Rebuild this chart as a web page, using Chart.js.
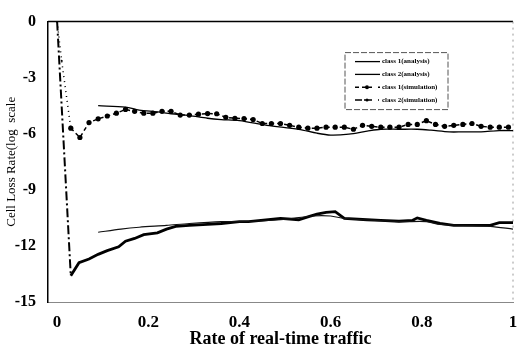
<!DOCTYPE html>
<html>
<head>
<meta charset="utf-8">
<script src="https://cdn.jsdelivr.net/npm/chart.js@4.4.1/dist/chart.umd.min.js"></script>
<style>
    html, body { margin: 0; padding: 0; background: #fff; }
</style>
</head>
<body>
<canvas id="lossChart" width="517" height="358"></canvas>
<script>
// values (x = rate of real-time traffic, y = log cell loss rate)
const c1AnaX = [0.09, 0.15, 0.18, 0.22, 0.25, 0.29, 0.33, 0.36, 0.40, 0.46, 0.53, 0.57, 0.60, 0.64, 0.68, 0.71, 0.75, 0.79, 0.82, 0.86, 0.89, 0.93, 0.97, 1.00];
const c1AnaY = [-4.5, -4.57, -4.73, -4.83, -4.93, -5.03, -5.17, -5.24, -5.3, -5.55, -5.76, -5.97, -6.07, -6.02, -5.86, -5.76, -5.76, -5.76, -5.81, -5.9, -5.9, -5.9, -5.83, -5.83];

const c2AnaX = [0.09, 0.14, 0.18, 0.24, 0.29, 0.36, 0.40, 0.49, 0.56, 0.60, 0.63, 0.75, 0.81, 0.84, 0.89, 0.95, 1.00];
const c2AnaY = [-11.27, -11.1, -11.0, -10.9, -10.8, -10.7, -10.7, -10.6, -10.4, -10.4, -10.53, -10.7, -10.7, -10.85, -10.9, -10.95, -11.1];

const c1SimX = [0, 0.01, 0.03, 0.05, 0.07, 0.09, 0.11, 0.13, 0.15, 0.17, 0.19, 0.21, 0.23, 0.25, 0.27, 0.29, 0.31, 0.33, 0.35, 0.37, 0.39, 0.41, 0.43, 0.45, 0.47, 0.49, 0.51, 0.53, 0.55, 0.57, 0.59, 0.61, 0.63, 0.65, 0.67, 0.69, 0.71, 0.73, 0.75, 0.77, 0.79, 0.81, 0.83, 0.85, 0.87, 0.89, 0.91, 0.93, 0.95, 0.97, 0.99];
const c1SimY = [0, -2.1, -5.7, -6.2, -5.4, -5.2, -5.05, -4.9, -4.7, -4.8, -4.9, -4.9, -4.8, -4.8, -5.0, -5.0, -4.95, -4.92, -4.93, -5.12, -5.17, -5.19, -5.24, -5.45, -5.45, -5.45, -5.55, -5.65, -5.7, -5.7, -5.65, -5.65, -5.65, -5.76, -5.55, -5.6, -5.65, -5.65, -5.65, -5.5, -5.5, -5.3, -5.5, -5.6, -5.55, -5.5, -5.45, -5.6, -5.65, -5.65, -5.65];

const c2SimX = [0, 0.03, 0.048, 0.07, 0.09, 0.11, 0.135, 0.15, 0.17, 0.19, 0.22, 0.24, 0.26, 0.29, 0.33, 0.36, 0.40, 0.42, 0.49, 0.53, 0.55, 0.57, 0.59, 0.61, 0.63, 0.68, 0.71, 0.75, 0.78, 0.79, 0.81, 0.84, 0.87, 0.91, 0.95, 0.97, 1.00];
const c2SimY = [0, -13.6, -12.9, -12.7, -12.45, -12.25, -12.05, -11.75, -11.6, -11.4, -11.3, -11.1, -10.95, -10.9, -10.85, -10.8, -10.7, -10.7, -10.53, -10.6, -10.45, -10.3, -10.2, -10.17, -10.53, -10.6, -10.63, -10.68, -10.63, -10.5, -10.63, -10.8, -10.9, -10.9, -10.9, -10.75, -10.75];

const seriesLabels = ['class 1(analysis)', 'class 2(analysis)', 'class 1(simulation)', 'class 2(simulation)'];
const xTicks = [0, 0.2, 0.4, 0.6, 0.8, 1];

function toPoints(xs, ys) {
    return xs.map((x, i) => ({ x: x, y: ys[i] }));
}

// top solid line and faint dotted right edge, like the scanned frame
const framePlugin = {
    id: 'frame',
    beforeDatasetsDraw(chart) {
        const { ctx, chartArea: a } = chart;
        ctx.save();
        ctx.strokeStyle = '#000';
        ctx.lineWidth = 1.5;
        ctx.beginPath();
        ctx.moveTo(a.left, a.top);
        ctx.lineTo(a.right, a.top);
        ctx.stroke();
        ctx.strokeStyle = '#999';
        ctx.lineWidth = 1;
        ctx.setLineDash([2, 4]);
        ctx.beginPath();
        ctx.moveTo(a.right, a.top);
        ctx.lineTo(a.right, a.bottom);
        ctx.stroke();
        ctx.restore();
    }
};

// small boxed legend inside the plot, top right
const boxLegend = {
    id: 'boxLegend',
    afterDraw(chart) {
        const { ctx, chartArea: a } = chart;
        const bx = a.left + 297, by = a.top + 31, bw = 103, bh = 57;
        ctx.save();
        ctx.strokeStyle = '#555';
        ctx.lineWidth = 1;
        ctx.setLineDash([6, 2]);
        ctx.strokeRect(bx, by, bw, bh);
        ctx.font = 'bold 7px "Liberation Serif"';
        ctx.textBaseline = 'middle';
        chart.data.datasets.forEach((ds, i) => {
            const y = by + 9 + i * 12.8;
            ctx.strokeStyle = '#000';
            ctx.lineWidth = i < 2 ? 1.3 : 1.6;
            ctx.setLineDash(ds.legendDash || []);
            ctx.beginPath();
            ctx.moveTo(bx + 10, y);
            ctx.lineTo(bx + 35, y);
            ctx.stroke();
            if (i >= 2) {
                ctx.fillStyle = '#fff';
                ctx.fillRect(bx + 27, y - 2, 6, 4);
                ctx.fillStyle = '#000';
                ctx.beginPath();
                ctx.arc(bx + 22, y, i === 2 ? 2 : 1.5, 0, Math.PI * 2);
                ctx.fill();
            }
            ctx.fillStyle = '#000';
            ctx.fillText(ds.label, bx + 37, y);
        });
        ctx.restore();
    }
};

const ctx = document.getElementById('lossChart').getContext('2d');
new Chart(ctx, {
    type: 'line',
    data: {
        datasets: [
            {
                label: seriesLabels[0],
                data: toPoints(c1AnaX, c1AnaY),
                borderColor: '#000',
                borderWidth: 1.3,
                pointRadius: 0,
                tension: 0.3
            },
            {
                label: seriesLabels[1],
                data: toPoints(c2AnaX, c2AnaY),
                borderColor: '#111',
                borderWidth: 1.2,
                pointRadius: 0,
                tension: 0.3
            },
            {
                label: seriesLabels[2],
                data: toPoints(c1SimX, c1SimY),
                borderColor: '#000',
                borderWidth: 1.5,
                borderDash: [4, 3],
                legendDash: [4, 3],
                pointRadius: (c) => (c.parsed && c.parsed.x < 0.02 ? 1 : 2.6),
                pointBackgroundColor: '#000',
                pointBorderWidth: 0,
                tension: 0,
                segment: {
                    borderDash: (s) => (s.p0.parsed.x < 0.02 ? [1, 4] : undefined),
                    borderWidth: (s) => (s.p0.parsed.x < 0.02 ? 1.5 : undefined)
                }
            },
            {
                label: seriesLabels[3],
                data: toPoints(c2SimX, c2SimY),
                borderColor: '#000',
                borderWidth: 2.8,
                legendDash: [7, 2, 2, 2],
                pointRadius: 0,
                tension: 0,
                segment: {
                    borderDash: (s) => (s.p0.parsed.x < 0.02 ? [9, 3, 2, 3] : undefined),
                    borderWidth: (s) => (s.p0.parsed.x < 0.02 ? 2 : undefined)
                }
            }
        ]
    },
    options: {
        responsive: false,
        animation: false,
        layout: { padding: { top: 12, right: 2, left: 0, bottom: 0 } },
        plugins: {
            legend: { display: false },
            tooltip: { enabled: false }
        },
        scales: {
            x: {
                type: 'linear',
                min: -0.02,
                max: 1,
                afterFit: (s) => { s.height = 56; s.paddingRight = 3; s.paddingLeft = 0; },
                afterBuildTicks: (s) => { s.ticks = xTicks.map(v => ({ value: v })); },
                grid: { display: false, drawTicks: false },
                border: { display: true, color: '#888', width: 1, dash: [6, 2] },
                ticks: {
                    padding: 10,
                    color: '#000',
                    font: { family: '"Liberation Serif"', size: 17, weight: 'bold' },
                    callback: (v) => String(v)
                },
                title: {
                    display: true,
                    text: 'Rate of real-time traffic',
                    color: '#000',
                    padding: { top: 0, bottom: 8 },
                    font: { family: '"Liberation Serif"', size: 18, weight: 'bold' }
                }
            },
            y: {
                min: -15,
                max: 0,
                afterFit: (s) => { s.width = 48; },
                grid: { display: false, drawTicks: false },
                border: { display: true, color: '#000', width: 1.5 },
                ticks: {
                    stepSize: 3,
                    padding: 12,
                    color: '#000',
                    font: { family: '"Liberation Serif"', size: 16, weight: 'bold' }
                },
                title: {
                    display: true,
                    text: 'Cell Loss Rate(log  scale',
                    color: '#000',
                    padding: { top: 4, bottom: 0 },
                    font: { family: '"Liberation Serif"', size: 13 }
                }
            }
        }
    },
    plugins: [framePlugin, boxLegend]
});
</script>
</body>
</html>
